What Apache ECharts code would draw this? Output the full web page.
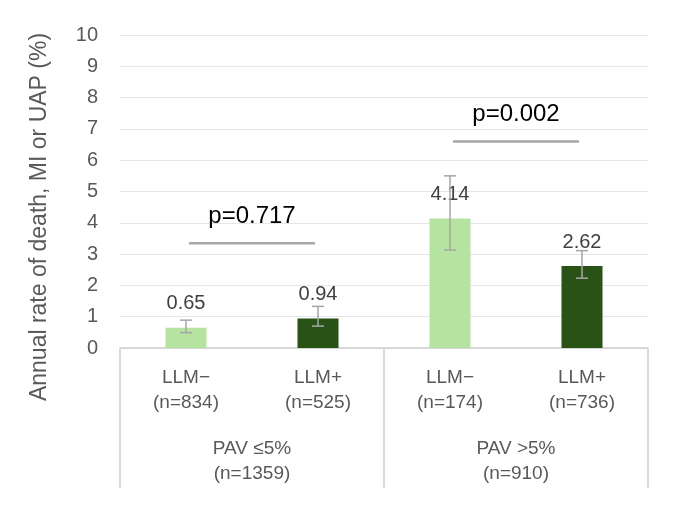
<!DOCTYPE html>
<html>
<head>
<meta charset="utf-8">
<script src="https://cdn.jsdelivr.net/npm/echarts@6/dist/echarts.min.js"></script>
<style>
  html, body { margin: 0; padding: 0; background: #fff; }
  #main { width: 680px; height: 510px; }
</style>
</head>
<body>
<div id="main"></div>
<script>
// 数据
var categories = ['LLM\u2212\n(n=834)', 'LLM+\n(n=525)', 'LLM\u2212\n(n=174)', 'LLM+\n(n=736)'];
var groups = ['PAV \u22645%\n(n=1359)', 'PAV >5%\n(n=910)'];
var rates = [0.65, 0.94, 4.14, 2.62];
var errLow = [0.49, 0.70, 3.13, 2.23];
var errHigh = [0.89, 1.33, 5.50, 3.11];
var barColors = ['#b5e3a0', '#295316', '#b5e3a0', '#295316'];
// p值 标注
var pLabels = ['p=0.717', 'p=0.002'];
var pFrom = [0, 2];
var pTo = [1, 3];
var pLevel = [3.35, 6.6];

var font = 'Liberation Sans, Arial, sans-serif';
var grey = '#595959';

var chart = echarts.init(document.getElementById('main'));

var option = {
    animation: false,
    backgroundColor: '#fff',
    textStyle: { fontFamily: font },
    grid: { left: 120, right: 32, top: 35, bottom: 162 },
    xAxis: [{
        type: 'category',
        data: categories,
        position: 'bottom',
        axisLine: { show: true, lineStyle: { color: '#d0d0d0', width: 1.5 } },
        axisTick: { show: false },
        axisLabel: { color: grey, fontSize: 19, lineHeight: 25, margin: 17, fontFamily: font }
    }, {
        type: 'category',
        data: groups,
        position: 'bottom',
        axisLine: { show: false },
        axisTick: { show: true, length: 140, lineStyle: { color: '#d0d0d0', width: 1.5 } },
        axisLabel: { color: grey, fontSize: 19, lineHeight: 25, margin: 88, fontFamily: font }
    }],
    yAxis: {
        type: 'value',
        min: 0,
        max: 10,
        interval: 1,
        axisLine: { show: false },
        axisTick: { show: false },
        axisLabel: { color: grey, fontSize: 20, margin: 22, fontFamily: font },
        splitLine: { lineStyle: { color: '#e6e6e6', width: 1 } }
    },
    graphic: [{
        type: 'text',
        x: 40,
        y: 217,
        rotation: Math.PI / 2,
        style: {
            text: 'Annual rate of death, MI or UAP (%)',
            fill: grey,
            fontSize: 23,
            fontFamily: font,
            align: 'center',
            verticalAlign: 'middle'
        }
    }],
    series: [{
        type: 'bar',
        xAxisIndex: 0,
        barWidth: 41,
        data: rates.map(function (v, i) {
            return { value: v, itemStyle: { color: barColors[i] } };
        }),
        label: {
            show: true,
            position: 'top',
            distance: 14,
            color: '#404040',
            fontSize: 20,
            fontFamily: font,
            formatter: function (p) { return p.value.toFixed(2); }
        }
    }, {
        // 误差线
        type: 'custom',
        xAxisIndex: 0,
        data: rates.map(function (v, i) { return [i, errLow[i], errHigh[i]]; }),
        encode: { x: 0, y: [1, 2] },
        z: 10,
        renderItem: function (params, api) {
            var lo = api.coord([api.value(0), api.value(1)]);
            var hi = api.coord([api.value(0), api.value(2)]);
            var cap = 6;
            var st = { stroke: '#a6a6a6', lineWidth: 1.5 };
            return {
                type: 'group',
                children: [
                    { type: 'line', shape: { x1: hi[0], y1: hi[1], x2: lo[0], y2: lo[1] }, style: st },
                    { type: 'line', shape: { x1: hi[0] - cap, y1: hi[1], x2: hi[0] + cap, y2: hi[1] }, style: st },
                    { type: 'line', shape: { x1: lo[0] - cap, y1: lo[1], x2: lo[0] + cap, y2: lo[1] }, style: st }
                ]
            };
        }
    }, {
        // p值 横线
        type: 'custom',
        xAxisIndex: 0,
        data: pLabels.map(function (t, i) { return [pFrom[i], pTo[i], pLevel[i]]; }),
        encode: { x: [0, 1], y: 2 },
        renderItem: function (params, api) {
            var a = api.coord([api.value(0), api.value(2)]);
            var b = api.coord([api.value(1), api.value(2)]);
            var inset = 3;
            return {
                type: 'group',
                children: [
                    { type: 'line', shape: { x1: a[0] + inset, y1: a[1], x2: b[0] - inset, y2: b[1] },
                      style: { stroke: '#a6a6a6', lineWidth: 2.5 } },
                    { type: 'text', style: {
                        text: pLabels[params.dataIndex],
                        x: (a[0] + b[0]) / 2,
                        y: a[1] - 27,
                        align: 'center',
                        verticalAlign: 'middle',
                        fill: '#000',
                        fontSize: 24,
                        fontFamily: font
                    } }
                ]
            };
        }
    }]
};

chart.setOption(option);
</script>
</body>
</html>
